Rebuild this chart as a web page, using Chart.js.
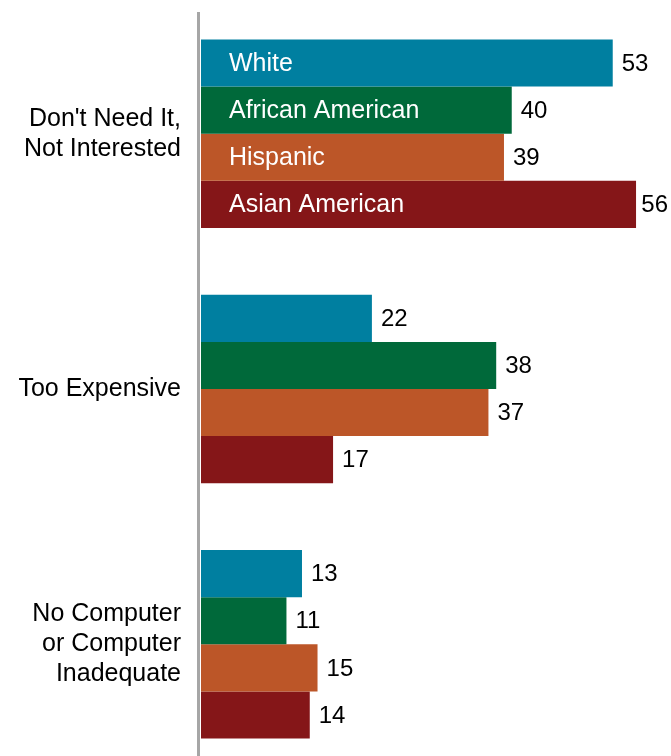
<!DOCTYPE html>
<html>
<head>
<meta charset="utf-8">
<script src="https://cdn.jsdelivr.net/npm/chart.js@4.4.1/dist/chart.umd.min.js"></script>
<style>
  html, body { margin: 0; padding: 0; background: #fff; overflow: hidden; }
  #wrap { width: 671px; height: 756px; overflow: hidden; position: relative; }
  canvas { display: block; }
</style>
</head>
<body>
<div id="wrap"><canvas id="chart" width="671" height="772"></canvas></div>
<script>
// categories and series
const categories = [
  ["Don't Need It,", "Not Interested"],
  ["Too Expensive"],
  ["No Computer", "or Computer", "Inadequate"]
];
const seriesNames = ['White', 'African American', 'Hispanic', 'Asian American'];
const white = [53, 22, 13];
const africanAmerican = [40, 38, 11];
const hispanic = [39, 37, 15];
const asianAmerican = [56, 17, 14];
const colors = ['#007FA0', '#00693A', '#BC5628', '#851618'];

const FONT = '"Liberation Sans", Arial, sans-serif';

// values after each bar, series names inside first group
const labelPlugin = {
    id: 'barLabels',
    afterDatasetsDraw(chart) {
        const ctx = chart.ctx;
        ctx.save();
        ctx.textBaseline = 'middle';
        ctx.textAlign = 'left';
        chart.data.datasets.forEach((ds, i) => {
            const meta = chart.getDatasetMeta(i);
            meta.data.forEach((bar, j) => {
                const txt = String(ds.data[j]);
                ctx.font = '24px ' + FONT;
                // keep the label inside the canvas
                const x = Math.min(bar.x + 9, chart.width - 3 - ctx.measureText(txt).width);
                ctx.fillStyle = '#000';
                ctx.fillText(txt, x, bar.y + 1);
                if (j === 0) {
                    ctx.font = '25px ' + FONT;
                    ctx.fillStyle = '#fff';
                    ctx.fillText(ds.label, bar.base + 28, bar.y + 1);
                }
            });
        });
        ctx.restore();
    }
};

// gray vertical axis line
const axisLine = {
    id: 'axisLine',
    afterDraw(chart) {
        const ctx = chart.ctx;
        const x = chart.chartArea.left - 2.5;
        ctx.save();
        ctx.strokeStyle = '#A6A6A6';
        ctx.lineWidth = 3;
        ctx.beginPath();
        ctx.moveTo(x, 12);
        ctx.lineTo(x, chart.height);
        ctx.stroke();
        ctx.restore();
    }
};

const datasets = [white, africanAmerican, hispanic, asianAmerican].map((d, i) => ({
    label: seriesNames[i],
    data: d,
    backgroundColor: colors[i],
    borderWidth: 0,
    barPercentage: 1,
    categoryPercentage: 0.738
}));

new Chart(document.getElementById('chart'), {
    type: 'bar',
    data: { labels: categories, datasets: datasets },
    options: {
        indexAxis: 'y',
        responsive: false,
        animation: false,
        layout: { padding: { top: 6, right: 0, bottom: 0, left: 0 } },
        plugins: { legend: { display: false }, tooltip: { enabled: false } },
        scales: {
            x: {
                display: false,
                min: 0,
                max: 60.5
            },
            y: {
                grid: { display: false, drawTicks: false },
                border: { display: false },
                ticks: {
                    color: '#000',
                    padding: 20,
                    font: { family: FONT, size: 25, lineHeight: 1.2 }
                },
                afterFit(scale) {
                    scale.width = 201;
                    scale.paddingTop = 0;
                    scale.paddingBottom = 0;
                }
            }
        }
    },
    plugins: [labelPlugin, axisLine]
});
</script>
</body>
</html>
